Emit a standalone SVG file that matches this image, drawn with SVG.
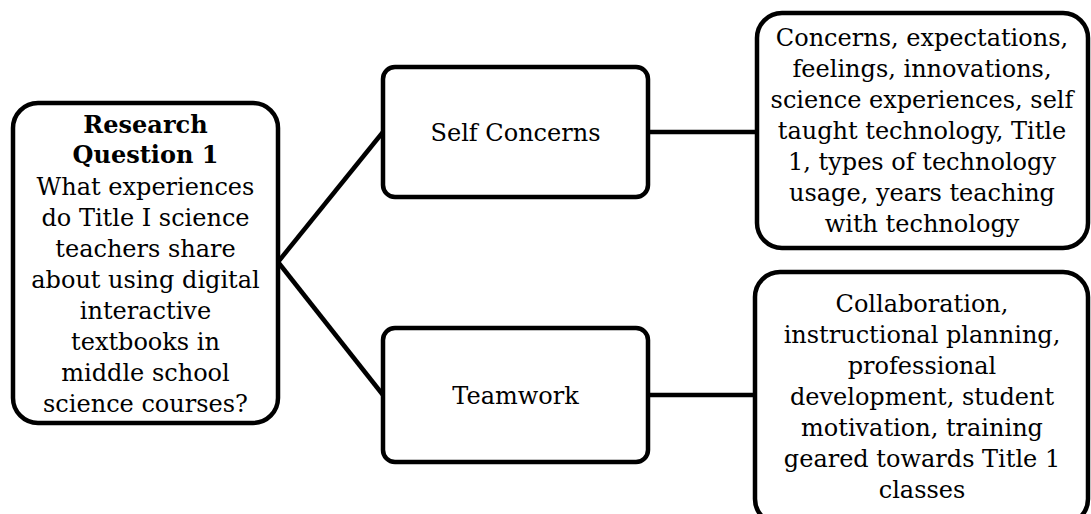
<svg xmlns="http://www.w3.org/2000/svg" width="1091" height="514" viewBox="0 0 1091 514">
<style>
.box{fill:#fff;stroke:#000;stroke-width:4.5}
.t{font-family:"DejaVu Serif","Liberation Serif",serif;font-size:24px;fill:#000;text-anchor:middle}
.b{font-weight:bold}
.c{stroke:#000;stroke-width:4.5;fill:none}
</style>
<rect width="1091" height="514" fill="#fff"/>
<g id="connectors">
<line class="c" x1="278" y1="262" x2="383" y2="132"/>
<line class="c" x1="278" y1="262" x2="383" y2="395"/>
<line class="c" x1="648" y1="132" x2="757" y2="132"/>
<line class="c" x1="648" y1="395" x2="755" y2="395"/>
</g>
<g id="rq1">
<rect class="box" x="13" y="103" width="265" height="320" rx="25"/>
<text class="t b" x="145.5" y="133">Research</text>
<text class="t b" x="145.5" y="163">Question 1</text>
<text class="t" x="145.5" y="195">What experiences</text>
<text class="t" x="145.5" y="226">do Title I science</text>
<text class="t" x="145.5" y="257">teachers share</text>
<text class="t" x="145.5" y="288">about using digital</text>
<text class="t" x="145.5" y="319">interactive</text>
<text class="t" x="145.5" y="350">textbooks in</text>
<text class="t" x="145.5" y="381">middle school</text>
<text class="t" x="145.5" y="412">science courses?</text>
</g>
<g id="self-concerns">
<rect class="box" x="383" y="67" width="265" height="130" rx="12"/>
<text class="t" x="515.5" y="141">Self Concerns</text>
</g>
<g id="teamwork">
<rect class="box" x="383" y="328" width="265" height="134" rx="12"/>
<text class="t" x="515.5" y="404">Teamwork</text>
</g>
<g id="self-details">
<rect class="box" x="757" y="13" width="331" height="235" rx="25"/>
<text class="t" x="922" y="46">Concerns, expectations,</text>
<text class="t" x="922" y="77">feelings, innovations,</text>
<text class="t" x="922" y="108">science experiences, self</text>
<text class="t" x="922" y="139">taught technology, Title</text>
<text class="t" x="922" y="170">1, types of technology</text>
<text class="t" x="922" y="201">usage, years teaching</text>
<text class="t" x="922" y="232">with technology</text>
</g>
<g id="teamwork-details">
<rect class="box" x="755" y="272" width="333" height="252" rx="25"/>
<text class="t" x="922" y="312">Collaboration,</text>
<text class="t" x="922" y="343">instructional planning,</text>
<text class="t" x="922" y="374">professional</text>
<text class="t" x="922" y="405">development, student</text>
<text class="t" x="922" y="436">motivation, training</text>
<text class="t" x="922" y="467">geared towards Title 1</text>
<text class="t" x="922" y="498">classes</text>
</g>
</svg>
